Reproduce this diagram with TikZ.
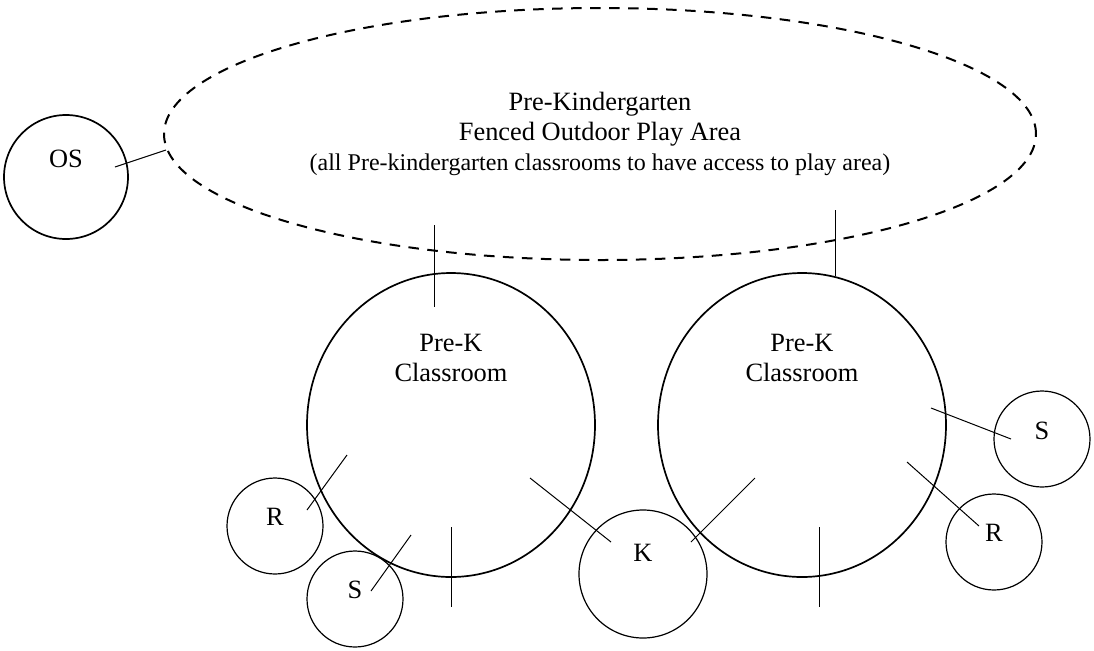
\documentclass[tikz,border=0pt]{standalone}
\usepackage{fontspec}
\setmainfont{Liberation Serif}
\usetikzlibrary{shapes.geometric}

\begin{document}
\begin{tikzpicture}[x = 0.5pt,
                    y = -0.5pt,
                    font = \fontsize{13.2}{15}\selectfont,
                    color = {black}]
% styles of rooms and doors
\tikzset{roomstyle/.style={ellipse,draw=black,line width=0.85pt,minimum width=144pt,minimum height=152pt,inner sep=0pt}}
\tikzset{spotstyle/.style={circle,draw=black,line width=0.6pt,minimum size=48pt,inner sep=0pt}}
\tikzset{doorstyle/.style={draw=black,line width=0.5pt}}
\useasboundingbox (0,0) rectangle (1094,650);

%play area
\node[ellipse,draw=black,line width=1pt,dash pattern=on 5.3pt off 4.2pt,
      minimum width=436pt,minimum height=126pt,inner sep=0pt,align=center] (play) at (600,134)
 {Pre-Kindergarten\\Fenced Outdoor Play Area\\{\fontsize{12}{15}\selectfont (all Pre-kindergarten classrooms to have access to play area)}};
%outdoor storage
\node[circle,draw=black,line width=0.85pt,minimum size=62pt,inner sep=0pt,
      label={[yshift=9pt]center:OS}] (os) at (66,177) {};

%classrooms
\node[roomstyle] (roomL) at (451,425) {};
\node[roomstyle] (roomR) at (802,425) {};
\node[align=center] (textL) at (451,358) {Pre-K\\Classroom};
\node[align=center] (textR) at (802,358) {Pre-K\\Classroom};

%small rooms
\node[spotstyle,label={[yshift=4.5pt]center:R}] (rL) at (275,526) {};
\node[spotstyle,label={[yshift=4.5pt]center:S}] (sL) at (355,599) {};
\node[spotstyle,minimum size=64pt,label={[yshift=10.5pt]center:K}] (k) at (643,574) {};
\node[spotstyle,label={[yshift=4pt]center:S}] (sR) at (1042,439) {};
\node[spotstyle,label={[yshift=4.5pt]center:R}] (rR) at (994,542) {};

%doors
%OS
\coordinate (D1) at (115,167);
\coordinate (D2) at (166,150);
%play area
\coordinate (D3) at (434,225);
\coordinate (D4) at (434,307);
\coordinate (D5) at (835,210);
\coordinate (D6) at (835,276);
%left classroom
\coordinate (D7) at (307,510);
\coordinate (D8) at (347,455);
\coordinate (D9) at (371,591);
\coordinate (D10) at (411,535);
\coordinate (D11) at (451,527);
\coordinate (D12) at (451,607);
\coordinate (D13) at (530,478);
\coordinate (D14) at (611,542);
%right classroom
\coordinate (D15) at (691,542);
\coordinate (D16) at (755,478);
\coordinate (D17) at (819,527);
\coordinate (D18) at (819,607);
\coordinate (D19) at (907,462);
\coordinate (D20) at (979,526);
\coordinate (D21) at (931,408);
\coordinate (D22) at (1011,439);

\draw[doorstyle] (D1) -- (D2);
\draw[doorstyle] (D3) -- (D4);
\draw[doorstyle] (D5) -- (D6);
\draw[doorstyle] (D7) -- (D8);
\draw[doorstyle] (D9) -- (D10);
\draw[doorstyle] (D11) -- (D12);
\draw[doorstyle] (D13) -- (D14);
\draw[doorstyle] (D15) -- (D16);
\draw[doorstyle] (D17) -- (D18);
\draw[doorstyle] (D19) -- (D20);
\draw[doorstyle] (D21) -- (D22);
\end{tikzpicture}
\end{document}
